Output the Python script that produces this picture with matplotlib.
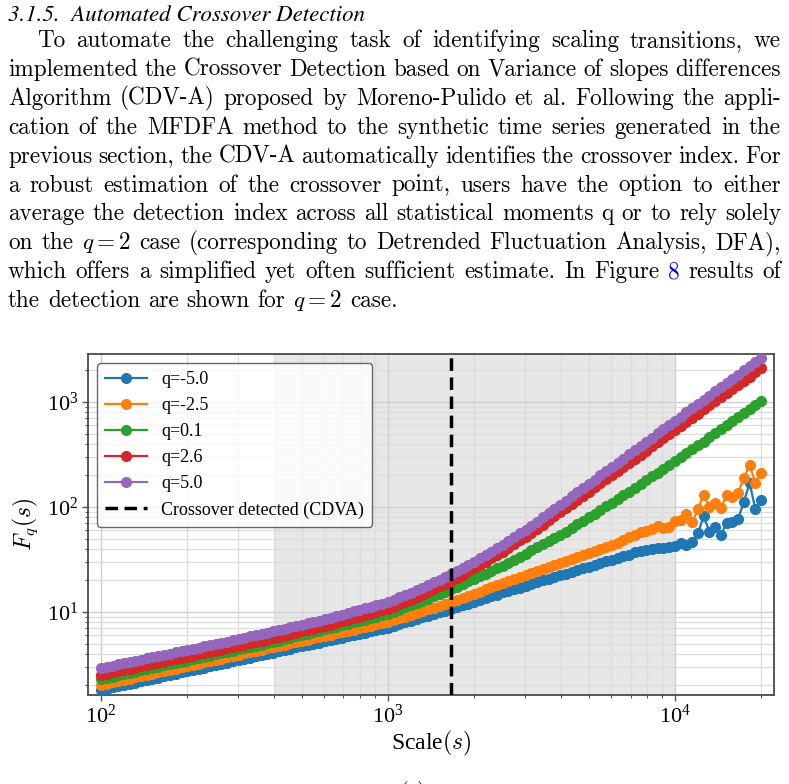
import numpy as np
import matplotlib
matplotlib.use("Agg")
import matplotlib.pyplot as plt
from matplotlib.ticker import LogLocator, NullFormatter

# ---------------- data ----------------
scales = [100, 105, 110, 115, 120, 126, 132, 138, 145, 151,
          158, 166, 174, 182, 191, 200, 209, 219, 229, 240,
          251, 263, 275, 288, 302, 316, 331, 347, 363, 380,
          398, 417, 437, 457, 479, 501, 525, 550, 575, 603,
          631, 661, 692, 724, 759, 794, 832, 871, 912, 955,
          1000, 1047, 1096, 1148, 1202, 1259, 1318, 1380, 1445, 1514,
          1585, 1660, 1738, 1820, 1905, 1995, 2089, 2188, 2291, 2399,
          2512, 2630, 2754, 2884, 3020, 3162, 3311, 3467, 3631, 3802,
          3981, 4169, 4365, 4571, 4786, 5012, 5248, 5495, 5754, 6026,
          6310, 6607, 6918, 7244, 7586, 7943, 8318, 8710, 9120, 9550,
          10000, 10471, 10965, 11482, 12023, 12589, 13183, 13804, 14454, 15136,
          15849, 16596, 17378, 18197, 19055, 19953]

q_values = ["-5.0", "-2.5", "0.1", "2.6", "5.0"]

# log10 of F_q(s) for each q
log10_F_q_m5_0 = [
    0.257, 0.269, 0.281, 0.293, 0.305, 0.317, 0.328, 0.340, 0.352, 0.364,
    0.376, 0.388, 0.400, 0.412, 0.424, 0.436, 0.447, 0.459, 0.471, 0.483,
    0.495, 0.507, 0.519, 0.531, 0.543, 0.555, 0.566, 0.578, 0.590, 0.602,
    0.614, 0.626, 0.638, 0.650, 0.662, 0.674, 0.685, 0.697, 0.709, 0.721,
    0.733, 0.745, 0.757, 0.769, 0.781, 0.793, 0.804, 0.816, 0.828, 0.840,
    0.852, 0.868, 0.884, 0.900, 0.916, 0.932, 0.948, 0.964, 0.980, 0.996,
    1.012, 1.029, 1.046, 1.063, 1.080, 1.097, 1.114, 1.131, 1.148, 1.165,
    1.190, 1.199, 1.216, 1.233, 1.250, 1.267, 1.283, 1.300, 1.316, 1.333,
    1.349, 1.365, 1.382, 1.398, 1.415, 1.431, 1.447, 1.464, 1.488, 1.497,
    1.513, 1.529, 1.540, 1.570, 1.579, 1.595, 1.600, 1.612, 1.605, 1.620,
    1.629, 1.657, 1.638, 1.667, 1.752, 1.914, 1.762, 1.810, 1.733, 1.848,
    1.857, 1.886, 2.048, 2.229, 1.981, 2.067]

log10_F_q_m2_5 = [
    0.305, 0.317, 0.329, 0.341, 0.353, 0.365, 0.377, 0.389, 0.401, 0.413,
    0.425, 0.437, 0.449, 0.461, 0.473, 0.485, 0.497, 0.509, 0.521, 0.533,
    0.545, 0.557, 0.569, 0.581, 0.593, 0.605, 0.617, 0.629, 0.641, 0.653,
    0.665, 0.677, 0.689, 0.701, 0.713, 0.725, 0.737, 0.749, 0.761, 0.773,
    0.785, 0.797, 0.809, 0.821, 0.833, 0.845, 0.857, 0.869, 0.881, 0.893,
    0.905, 0.922, 0.939, 0.956, 0.973, 0.990, 1.007, 1.024, 1.041, 1.058,
    1.075, 1.095, 1.115, 1.135, 1.155, 1.175, 1.195, 1.215, 1.235, 1.255,
    1.275, 1.295, 1.315, 1.335, 1.355, 1.375, 1.394, 1.413, 1.432, 1.451,
    1.470, 1.489, 1.508, 1.527, 1.546, 1.565, 1.584, 1.603, 1.622, 1.641,
    1.660, 1.685, 1.710, 1.735, 1.760, 1.775, 1.790, 1.815, 1.800, 1.810,
    1.867, 1.876, 1.933, 1.857, 1.981, 2.114, 2.000, 2.038, 1.990, 2.114,
    2.095, 2.133, 2.276, 2.400, 2.229, 2.324]

log10_F_q_0_1 = [
    0.362, 0.374, 0.385, 0.397, 0.409, 0.421, 0.432, 0.444, 0.456, 0.467,
    0.479, 0.491, 0.502, 0.514, 0.526, 0.538, 0.549, 0.561, 0.573, 0.584,
    0.596, 0.608, 0.619, 0.631, 0.643, 0.655, 0.666, 0.678, 0.690, 0.701,
    0.713, 0.726, 0.740, 0.753, 0.767, 0.780, 0.793, 0.807, 0.820, 0.834,
    0.847, 0.860, 0.874, 0.887, 0.901, 0.914, 0.927, 0.941, 0.954, 0.968,
    0.981, 1.002, 1.023, 1.044, 1.065, 1.086, 1.107, 1.128, 1.149, 1.170,
    1.191, 1.216, 1.241, 1.266, 1.291, 1.316, 1.341, 1.366, 1.391, 1.416,
    1.441, 1.470, 1.499, 1.528, 1.557, 1.586, 1.615, 1.644, 1.673, 1.702,
    1.731, 1.765, 1.800, 1.834, 1.869, 1.903, 1.937, 1.972, 2.006, 2.041,
    2.075, 2.111, 2.147, 2.183, 2.219, 2.255, 2.291, 2.327, 2.363, 2.399,
    2.435, 2.473, 2.511, 2.549, 2.595, 2.622, 2.663, 2.701, 2.739, 2.777,
    2.815, 2.853, 2.891, 2.929, 2.967, 3.005]

log10_F_q_2_6 = [
    0.402, 0.413, 0.425, 0.436, 0.448, 0.459, 0.470, 0.482, 0.493, 0.505,
    0.516, 0.527, 0.539, 0.550, 0.562, 0.573, 0.584, 0.596, 0.607, 0.619,
    0.630, 0.642, 0.654, 0.666, 0.678, 0.690, 0.702, 0.714, 0.726, 0.738,
    0.750, 0.763, 0.776, 0.789, 0.802, 0.815, 0.828, 0.841, 0.854, 0.867,
    0.880, 0.895, 0.910, 0.925, 0.940, 0.955, 0.970, 0.985, 1.000, 1.015,
    1.030, 1.052, 1.074, 1.096, 1.118, 1.140, 1.166, 1.192, 1.218, 1.244,
    1.270, 1.299, 1.328, 1.357, 1.386, 1.415, 1.447, 1.479, 1.511, 1.543,
    1.575, 1.611, 1.647, 1.683, 1.719, 1.755, 1.794, 1.833, 1.872, 1.912,
    1.951, 1.990, 2.029, 2.068, 2.107, 2.146, 2.186, 2.225, 2.264, 2.303,
    2.342, 2.381, 2.420, 2.460, 2.499, 2.538, 2.577, 2.616, 2.655, 2.694,
    2.733, 2.772, 2.812, 2.851, 2.890, 2.929, 2.968, 3.007, 3.046, 3.086,
    3.125, 3.164, 3.203, 3.242, 3.281, 3.320]

log10_F_q_5_0 = [
    0.467, 0.478, 0.490, 0.501, 0.513, 0.524, 0.535, 0.547, 0.558, 0.570,
    0.581, 0.592, 0.604, 0.615, 0.627, 0.638, 0.649, 0.661, 0.672, 0.684,
    0.695, 0.707, 0.719, 0.731, 0.743, 0.755, 0.767, 0.779, 0.791, 0.803,
    0.815, 0.828, 0.841, 0.854, 0.867, 0.880, 0.893, 0.906, 0.919, 0.932,
    0.945, 0.960, 0.975, 0.990, 1.005, 1.020, 1.035, 1.050, 1.065, 1.080,
    1.095, 1.117, 1.139, 1.161, 1.183, 1.205, 1.231, 1.257, 1.283, 1.309,
    1.335, 1.364, 1.393, 1.422, 1.451, 1.480, 1.512, 1.544, 1.576, 1.608,
    1.640, 1.676, 1.712, 1.748, 1.784, 1.820, 1.860, 1.900, 1.940, 1.980,
    2.020, 2.060, 2.100, 2.140, 2.180, 2.220, 2.260, 2.300, 2.340, 2.380,
    2.420, 2.460, 2.500, 2.540, 2.580, 2.620, 2.660, 2.700, 2.740, 2.780,
    2.820, 2.860, 2.900, 2.940, 2.980, 3.020, 3.060, 3.100, 3.140, 3.180,
    3.220, 3.260, 3.300, 3.340, 3.380, 3.420]

crossover_scale = 1660
fit_range = [400, 10000]

series_colors = ["#1f77b4", "#ff7f0e", "#2ca02c", "#d62728", "#9467bd"]

header = "3.1.5.  Automated Crossover Detection"
paragraph_lines = [
    "To automate the challenging task of identifying scaling transitions, we",
    "implemented the Crossover Detection based on Variance of slopes differences",
    "Algorithm (CDV-A) proposed by Moreno-Pulido et al. Following the appli-",
    "cation of the MFDFA method to the synthetic time series generated in the",
    "previous section, the CDV-A automatically identifies the crossover index. For",
    "a robust estimation of the crossover point, users have the option to either",
    "average the detection index across all statistical moments q or to rely solely",
    "on the $q=2$ case (corresponding to Detrended Fluctuation Analysis, DFA),",
    "which offers a simplified yet often sufficient estimate. In Figure 8 results of",
    "the detection are shown for $q=2$ case.",
]

# ---------------- figure ----------------
plt.rcParams["font.family"] = ["Liberation Serif", "DejaVu Serif"]
plt.rcParams["mathtext.fontset"] = "cm"

W, H = 789, 784
fig = plt.figure(figsize=(W / 100, H / 100), dpi=100)
renderer = fig.canvas.get_renderer()

# ---- paragraph text ----
BODY_FS = 16.7
fig.text(8 / W, 1 - 21 / H, header, family="STIXGeneral", style="italic",
         fontsize=16.5, va="baseline", ha="left")

def place_line(line, y_px, x0, x1, justify=True):
    tokens = line.split(" ")
    texts = []
    for tok in tokens:
        color = "#0000ee" if tok == "8" else "black"
        t = fig.text(0, 1 - y_px / H, tok, fontsize=BODY_FS, family="cmr10",
                     va="baseline", ha="left", color=color)
        texts.append(t)
    widths = [t.get_window_extent(renderer=renderer).width for t in texts]
    if justify and len(texts) > 1:
        gap = (x1 - x0 - sum(widths)) / (len(texts) - 1)
    else:
        gap = 0.34 * BODY_FS * 100 / 72
    x = x0
    for t, w in zip(texts, widths):
        t.set_x(x / W)
        x += w + gap

baseline0 = 47.0
line_step = 28.9
for k, line in enumerate(paragraph_lines):
    x0 = 37 if k == 0 else 8
    place_line(line, baseline0 + k * line_step, x0, 781,
               justify=(k != len(paragraph_lines) - 1))

# ---- chart ----
ax = fig.add_axes([88 / W, 1 - 695 / H, (774 - 88) / W, (695 - 354) / H])
ax.set_xscale("log")
ax.set_yscale("log")

ax.axvspan(fit_range[0], fit_range[1], color="#808080", alpha=0.19, lw=0, zorder=0.5)

all_logs = [log10_F_q_m5_0, log10_F_q_m2_5, log10_F_q_0_1, log10_F_q_2_6, log10_F_q_5_0]
for qv, lg, c in zip(q_values, all_logs, series_colors):
    ax.plot(scales, np.power(10.0, np.array(lg)), marker="o", ms=7.0, lw=1.6,
            color=c, label=f"q={qv}", zorder=3)

ax.axvline(crossover_scale, color="black", ls=(0, (3.6, 1.9)), lw=2.5,
           label="Crossover detected (CDVA)", zorder=4)

ax.set_xlim(90.2, 22130)
ax.set_ylim(1.62, 2865)

ax.xaxis.set_major_locator(LogLocator(base=10, numticks=10))
ax.xaxis.set_minor_locator(LogLocator(base=10, subs=np.arange(2, 10), numticks=20))
ax.yaxis.set_major_locator(LogLocator(base=10, numticks=10))
ax.yaxis.set_minor_locator(LogLocator(base=10, subs=np.arange(2, 10), numticks=20))
ax.xaxis.set_minor_formatter(NullFormatter())
ax.yaxis.set_minor_formatter(NullFormatter())

ax.set_axisbelow(True)
ax.grid(True, which="major", color="#cfcfcf", lw=1.0, zorder=0)
ax.grid(True, which="minor", color="#dcdcdc", lw=0.9, zorder=0)

for sp in ax.spines.values():
    sp.set_color("#4a4a4a")
    sp.set_linewidth(1.3)

ax.tick_params(which="major", direction="out", length=4, width=1.0,
               color="#555555", labelsize=16, pad=3)
ax.tick_params(which="minor", direction="out", length=2.5, width=0.8,
               color="#555555")

ax.set_xlabel("Scale$(s)$", fontsize=17, labelpad=1)
ax.set_ylabel("$F_q(s)$", fontsize=17, labelpad=5)

leg = ax.legend(loc="upper left", fontsize=13.0, frameon=True, fancybox=True,
                framealpha=0.8, edgecolor="#444444", handlelength=2.3,
                handletextpad=0.8, labelspacing=0.5, borderpad=0.45)
leg.get_frame().set_linewidth(1.0)

# caption stub at the very bottom (cut off in the reference)
fig.text(400 / W, 1 - 781 / H, "(a)", fontsize=14, family="cmr10",
         va="top", ha="left")

fig.savefig("out.png", dpi=100)
